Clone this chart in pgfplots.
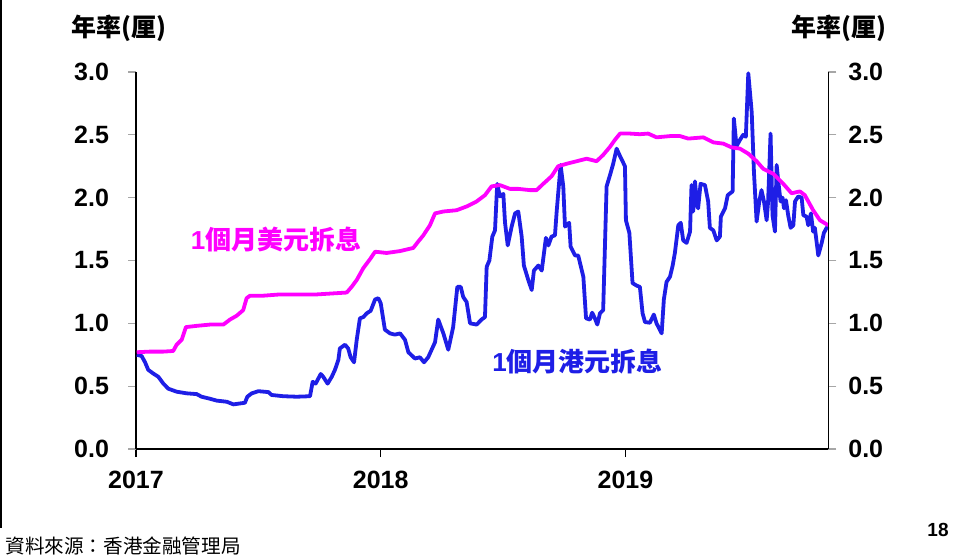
\documentclass[border=0pt]{standalone}
\usepackage{fontspec}
\setmainfont{Liberation Sans}
\newfontfamily\cjk{Noto Sans CJK TC}
\usepackage{pgfplots}
\pgfplotsset{compat=1.18}
\definecolor{hkdBlue}{RGB}{30,30,230}
\definecolor{usdPink}{RGB}{255,0,255}

% 1-month HIBOR (year, % p.a.)
\pgfplotstableread{
t v
2017.003 0.75
2017.023 0.74
2017.037 0.69
2017.050 0.63
2017.071 0.60
2017.091 0.575
2017.112 0.52
2017.132 0.48
2017.166 0.456
2017.207 0.443
2017.248 0.437
2017.268 0.416
2017.302 0.40
2017.330 0.385
2017.371 0.376
2017.398 0.355
2017.445 0.368
2017.455 0.416
2017.473 0.443
2017.500 0.46
2017.541 0.453
2017.554 0.43
2017.602 0.42
2017.657 0.416
2017.711 0.42
2017.722 0.535
2017.734 0.52
2017.755 0.597
2017.765 0.575
2017.783 0.52
2017.800 0.575
2017.813 0.63
2017.827 0.71
2017.833 0.80
2017.854 0.83
2017.867 0.80
2017.877 0.73
2017.891 0.69
2017.902 0.87
2017.915 1.04
2017.929 1.05
2017.943 1.08
2017.959 1.10
2017.977 1.19
2017.990 1.20
2018.000 1.16
2018.017 0.95
2018.038 0.92
2018.058 0.91
2018.079 0.92
2018.099 0.87
2018.113 0.77
2018.140 0.72
2018.160 0.73
2018.177 0.69
2018.194 0.73
2018.222 0.85
2018.235 1.03
2018.256 0.92
2018.276 0.79
2018.296 0.97
2018.313 1.29
2018.327 1.29
2018.337 1.21
2018.351 1.17
2018.365 1.00
2018.392 0.99
2018.412 1.03
2018.426 1.05
2018.433 1.45
2018.444 1.50
2018.456 1.69
2018.467 1.74
2018.476 2.11
2018.487 2.01
2018.501 2.03
2018.508 1.80
2018.519 1.62
2018.535 1.77
2018.549 1.875
2018.562 1.89
2018.576 1.69
2018.585 1.46
2018.603 1.345
2018.617 1.265
2018.626 1.42
2018.644 1.46
2018.658 1.42
2018.675 1.68
2018.685 1.62
2018.698 1.69
2018.712 1.70
2018.719 1.89
2018.735 2.26
2018.746 2.09
2018.753 1.77
2018.770 1.80
2018.776 1.61
2018.794 1.54
2018.807 1.54
2018.828 1.37
2018.839 1.04
2018.855 1.03
2018.864 1.085
2018.875 1.04
2018.885 0.99
2018.896 1.08
2018.909 1.105
2018.923 2.09
2018.937 2.18
2018.950 2.27
2018.964 2.39
2018.978 2.33
2018.998 2.25
2019.002 1.82
2019.016 1.72
2019.029 1.32
2019.046 1.30
2019.059 1.29
2019.070 1.08
2019.080 1.01
2019.100 1.005
2019.116 1.07
2019.127 1.00
2019.148 0.92
2019.157 1.19
2019.168 1.33
2019.182 1.37
2019.193 1.46
2019.202 1.56
2019.216 1.78
2019.226 1.80
2019.236 1.66
2019.250 1.64
2019.264 1.73
2019.270 2.10
2019.277 1.89
2019.284 2.13
2019.293 1.94
2019.297 1.915
2019.307 2.11
2019.325 2.10
2019.338 1.97
2019.345 1.76
2019.359 1.74
2019.373 1.66
2019.386 1.69
2019.390 1.85
2019.407 1.915
2019.418 2.02
2019.438 2.05
2019.443 2.63
2019.454 2.41
2019.468 2.46
2019.481 2.50
2019.492 2.485
2019.502 2.99
2019.516 2.68
2019.525 2.21
2019.536 1.81
2019.547 1.97
2019.556 2.06
2019.566 1.97
2019.577 1.82
2019.583 1.97
2019.593 2.51
2019.601 1.86
2019.611 1.73
2019.618 2.26
2019.624 2.14
2019.634 1.97
2019.642 2.00
2019.648 1.915
2019.656 1.98
2019.665 1.86
2019.675 1.76
2019.686 1.78
2019.693 1.97
2019.706 2.01
2019.720 2.00
2019.727 1.86
2019.740 1.85
2019.747 1.78
2019.758 1.875
2019.767 1.73
2019.774 1.76
2019.788 1.54
2019.802 1.64
2019.811 1.72
2019.822 1.76
2019.829 1.77
}\hibor

% 1-month USD LIBOR (year, % p.a.)
\pgfplotstableread{
t v
2017.003 0.77
2017.057 0.775
2017.112 0.775
2017.152 0.78
2017.166 0.83
2017.187 0.87
2017.204 0.97
2017.248 0.98
2017.302 0.99
2017.357 0.99
2017.384 1.03
2017.411 1.06
2017.438 1.105
2017.452 1.20
2017.466 1.22
2017.520 1.22
2017.588 1.23
2017.657 1.23
2017.738 1.23
2017.820 1.24
2017.861 1.245
2017.881 1.29
2017.902 1.345
2017.929 1.44
2017.956 1.51
2017.977 1.57
2018.024 1.56
2018.079 1.575
2018.133 1.60
2018.153 1.65
2018.174 1.70
2018.201 1.78
2018.222 1.875
2018.256 1.89
2018.310 1.90
2018.351 1.93
2018.392 1.97
2018.426 2.02
2018.453 2.09
2018.487 2.10
2018.528 2.07
2018.562 2.07
2018.610 2.06
2018.637 2.06
2018.664 2.11
2018.698 2.17
2018.725 2.25
2018.760 2.27
2018.801 2.29
2018.841 2.31
2018.882 2.29
2018.909 2.34
2018.937 2.405
2018.957 2.46
2018.978 2.51
2019.018 2.51
2019.059 2.505
2019.093 2.51
2019.127 2.48
2019.182 2.49
2019.223 2.49
2019.257 2.47
2019.318 2.48
2019.359 2.44
2019.400 2.43
2019.434 2.40
2019.468 2.39
2019.502 2.35
2019.536 2.29
2019.563 2.23
2019.604 2.19
2019.645 2.11
2019.679 2.035
2019.713 2.05
2019.733 2.02
2019.767 1.90
2019.795 1.82
2019.829 1.78
}\libor

\pgfplotsset{
  ratestyle/.style={
    at={(68pt,54.5pt)}, anchor=south west,
    scale only axis, width=346.15pt, height=188.5pt,
    xmin=2017, xmax=2019.829, ymin=0, ymax=3,
    ytick={0,0.5,...,3.0},
    tick align=outside,
    major tick length=4pt,
    ytick style={gray!70, line width=0.6pt},
    xtick style={black, line width=0.6pt},
    axis line style={line width=0.8pt},
    yticklabel style={font=\fontsize{12.5}{15}\selectfont\bfseries},
    xticklabel style={font=\fontsize{12.5}{15}\selectfont\bfseries, yshift=-3.5pt},
    /pgf/number format/.cd, fixed, fixed zerofill, precision=1, assume math mode=true,
  },
}

\begin{document}
\begin{tikzpicture}
\useasboundingbox (0,0) rectangle (476.5pt,279pt);
\draw[line width=0.8pt] (0.5pt,279pt) -- (0.5pt,15pt);

\begin{axis}[ratestyle,
  axis x line*=bottom, axis y line*=left,
  yticklabel style={xshift=-6pt},
  xtick={2017,2018,2019}, xticklabels={2017,2018,2019},
  clip=false]
\addplot[hkdBlue, line width=1.9pt, line join=round] table[x=t, y=v] {\hibor};
\addplot[usdPink, line width=1.9pt, line join=round] table[x=t, y=v] {\libor};
\end{axis}

\begin{axis}[ratestyle,
  axis x line=none, axis y line*=right, xtick=\empty,
  yticklabel style={xshift=2.5pt}]
\end{axis}

\node[font=\fontsize{12.5}{15}\selectfont\bfseries\cjk] at (59.25pt,265pt) {年率(厘)};
\node[font=\fontsize{12.5}{15}\selectfont\bfseries\cjk] at (419.5pt,265pt) {年率(厘)};
\node[text=usdPink, font=\fontsize{13}{15}\selectfont\bfseries] at (138pt,159pt)
  {1{\cjk 個月美元拆息}};
\node[text=hkdBlue, font=\fontsize{13}{15}\selectfont\bfseries] at (288.75pt,98pt)
  {1{\cjk 個月港元拆息}};
\node[anchor=west, font=\fontsize{9.8}{12}\selectfont\cjk, inner sep=0pt] at (2.5pt,6pt)
  {資料來源：香港金融管理局};
\node[font=\fontsize{9.5}{12}\selectfont\bfseries] at (469pt,14pt) {18};
\end{tikzpicture}
\end{document}
